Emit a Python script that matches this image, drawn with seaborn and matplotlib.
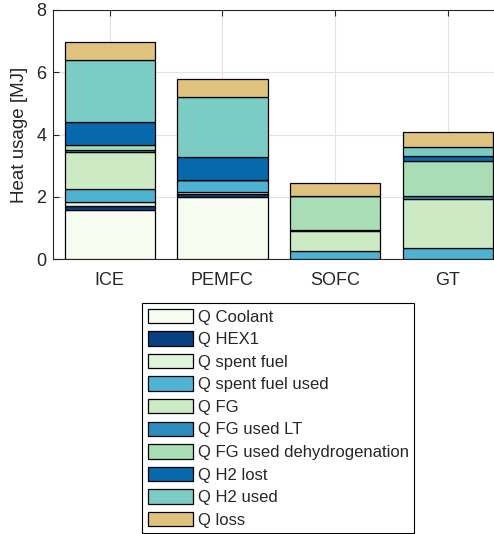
#%% IMPORTS                    ~~~~~~~~~~~~~~~~~~~~~~~~~~~~~~~~~~~~~~~~~~~~
import numpy  as np
import pandas as pd
import seaborn as sns
from   matplotlib import pyplot as plt
import matplotlib
matplotlib.use("Agg")

#%% CONSTANTS                   ~~~~~~~~~~~~~~~~~~~~~~~~~~~~~~~~~~~~~~~~~~~~
systems = ["ICE", "PEMFC", "SOFC", "GT"]

labels = ["Q Coolant", "Q HEX1", "Q spent fuel", "Q spent fuel used", "Q FG",
          "Q FG used LT", "Q FG used dehydrogenation", "Q H2 lost",
          "Q H2 used", "Q loss"]

# heat per system [MJ], one list per stacked segment (ICE, PEMFC, SOFC, GT)
q_coolant         = [1.57, 1.99, 0.00, 0.00]
q_hex1            = [0.15, 0.11, 0.00, 0.00]
q_spent_fuel      = [0.13, 0.07, 0.00, 0.00]
q_spent_fuel_used = [0.40, 0.38, 0.27, 0.35]
q_fg              = [1.18, 0.00, 0.63, 1.60]
q_fg_used_lt      = [0.09, 0.00, 0.05, 0.07]
q_fg_used_dehydro = [0.16, 0.00, 1.07, 1.15]
q_h2_lost         = [0.73, 0.72, 0.00, 0.13]
q_h2_used         = [1.98, 1.95, 0.00, 0.29]
q_loss            = [0.59, 0.58, 0.43, 0.51]

colours = ["#f7fcf0", "#084081", "#e0f3db", "#4eb3d3", "#ccebc5",
           "#2b8cbe", "#a8ddb5", "#0868ac", "#7bccc4", "#dfc27d"]

#%% CONFIGURATION               ~~~~~~~~~~~~~~~~~~~~~~~~~~~~~~~~~~~~~~~~~~~~
sns.set_style("white")
plt.rcParams["font.family"] = ["Liberation Sans", "DejaVu Sans"]

#%% MAIN CODE                  ~~~~~~~~~~~~~~~~~~~~~~~~~~~~~~~~~~~~~~~~~~~~
series = [q_coolant, q_hex1, q_spent_fuel, q_spent_fuel_used, q_fg,
          q_fg_used_lt, q_fg_used_dehydro, q_h2_lost, q_h2_used, q_loss]

fig = plt.figure(figsize=(4.94, 5.34), dpi=100)
ax = fig.add_axes([53.3/494, 1-259.3/534, 451/494, 249.3/534])

bottom = np.zeros(len(systems))
for vals, lab, col in zip(series, labels, colours):
    df = pd.DataFrame({"system": systems, "heat": vals})
    sns.barplot(data=df, x="system", y="heat", bottom=bottom, color=col,
                saturation=1, edgecolor="black", linewidth=0.9, width=0.8,
                label=lab, ax=ax, zorder=3)
    bottom = bottom + np.array(vals)
#end

ax.set_xlim(-0.5, 3.5)
ax.set_ylim(0, 8)
ax.set_yticks([0, 2, 4, 6, 8])
ax.set_xlabel("")
ax.set_ylabel("Heat usage [MJ]", fontsize=13.5, color="#262626", labelpad=6)
ax.tick_params(axis="both", labelsize=13, direction="in", length=4,
               color="#262626", labelcolor="#262626",
               top=True, left=True, bottom=True)
ax.tick_params(axis="x", pad=9)
ax.tick_params(axis="y", pad=5)
ax.grid(True, color="#e3e3e3", linewidth=0.8, zorder=0)
ax.set_axisbelow(True)
for sp in ax.spines.values():
    sp.set_color("#262626")
    sp.set_linewidth(0.8)
#end

leg = ax.legend(loc="upper center", bbox_to_anchor=(278/494, 1-303.3/534),
                bbox_transform=fig.transFigure, fontsize=12, frameon=True,
                fancybox=False, edgecolor="black", framealpha=1,
                handlelength=2.75, handleheight=0.95, handletextpad=0.25,
                labelspacing=0.4, borderpad=0.32, borderaxespad=0)
leg.get_frame().set_linewidth(0.8)

fig.savefig("out.png", dpi=100)
